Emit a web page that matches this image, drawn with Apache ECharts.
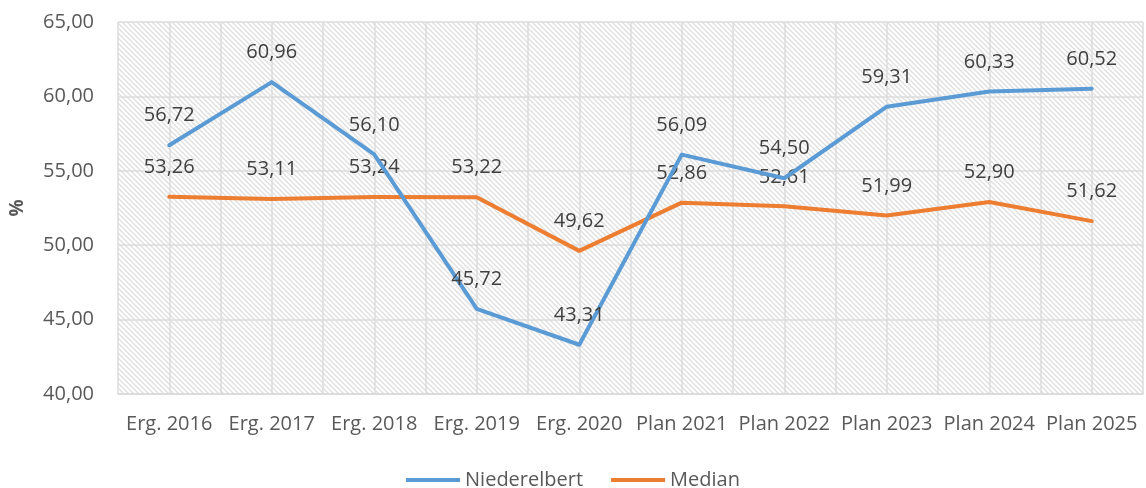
<!DOCTYPE html>
<html>
<head>
<meta charset="utf-8">
<script src="https://cdn.jsdelivr.net/npm/echarts@6/dist/echarts.min.js"></script>
<style>
html,body{margin:0;padding:0;background:#fff;}
#chart{width:1146px;height:488px;}
</style>
</head>
<body>
<div id="chart"></div>
<script>
const categories = ['Erg. 2016','Erg. 2017','Erg. 2018','Erg. 2019','Erg. 2020','Plan 2021','Plan 2022','Plan 2023','Plan 2024','Plan 2025'];
const niederelbert = [56.72, 60.96, 56.10, 45.72, 43.31, 56.09, 54.50, 59.31, 60.33, 60.52];
const median = [53.26, 53.11, 53.24, 53.22, 49.62, 52.86, 52.61, 51.99, 52.90, 51.62];
const seriesNames = ['Niederelbert', 'Median'];

function fmt(v){ return v.toFixed(2).replace('.', ','); }

// hatched background pattern
const tile = document.createElement('canvas');
const S = 5;
tile.width = S; tile.height = S;
const c = tile.getContext('2d');
c.fillStyle = '#ffffff';
c.fillRect(0,0,S,S);
c.strokeStyle = '#e0e0e0';
c.lineWidth = 1.4;
c.beginPath();
c.moveTo(-S,-S); c.lineTo(2*S,2*S);
c.moveTo(-S,0); c.lineTo(S,2*S);
c.moveTo(0,-S); c.lineTo(2*S,S);
c.stroke();

const font = '"Open Sans", "Noto Sans", sans-serif';
const chart = echarts.init(document.getElementById('chart'), null, {renderer:'canvas'});

const labelCfg = {
  show: true,
  position: 'top',
  distance: 19,
  color: '#404040',
  fontSize: 20,
  fontFamily: font,
  formatter: p => fmt(p.value)
};

chart.setOption({
  animation: false,
  backgroundColor: '#ffffff',
  grid: {
    left: 117, right: 3, top: 22, bottom: 94,
    show: true,
    borderWidth: 0,
    backgroundColor: {image: tile, repeat: 'repeat'}
  },
  legend: {
    bottom: -7,
    left: 'center',
    itemWidth: 54,
    itemHeight: 4,
    itemGap: 28,
    icon: 'rect',
    textStyle: {color: '#595959', fontSize: 20, fontFamily: font},
    data: seriesNames
  },
  xAxis: [{
    type: 'category',
    data: categories,
    boundaryGap: true,
    axisLine: {show: true, lineStyle: {color: '#d9d9d9', width: 1.5}},
    axisTick: {show: false},
    axisLabel: {color: '#595959', fontSize: 20, fontFamily: font, margin: 20, interval: 0},
    splitLine: {show: false}
  }, {
    type: 'value',
    min: 0, max: 20, interval: 1,
    position: 'bottom',
    show: true,
    axisLine: {show: false},
    axisTick: {show: false},
    axisLabel: {show: false},
    splitLine: {show: true, lineStyle: {color: '#dcdcdc', width: 1.5}}
  }],
  yAxis: {
    type: 'value',
    min: 40, max: 65, interval: 5,
    name: '%',
    nameLocation: 'middle',
    nameGap: 91,
    nameRotate: 90,
    nameTextStyle: {color: '#595959', fontSize: 19, fontWeight: 'bold', fontFamily: font},
    axisLine: {show: false},
    axisTick: {show: false},
    axisLabel: {color: '#595959', fontSize: 20, fontFamily: font, margin: 24, formatter: v => fmt(v)},
    splitLine: {show: true, lineStyle: {color: '#dcdcdc', width: 1.5}}
  },
  series: [
    {
      name: seriesNames[0], type: 'line', data: niederelbert, xAxisIndex: 0,
      symbol: 'circle', symbolSize: 1, showSymbol: true,
      color: '#5B9BD5',
      lineStyle: {color: '#5B9BD5', width: 4, cap: 'round', join: 'round'},
      itemStyle: {color: '#5B9BD5'},
      label: labelCfg, z: 3
    },
    {
      name: seriesNames[1], type: 'line', data: median, xAxisIndex: 0,
      symbol: 'circle', symbolSize: 1, showSymbol: true,
      color: '#ED7D31',
      lineStyle: {color: '#ED7D31', width: 4, cap: 'round', join: 'round'},
      itemStyle: {color: '#ED7D31'},
      label: labelCfg, z: 2
    }
  ]
});
</script>
</body>
</html>
